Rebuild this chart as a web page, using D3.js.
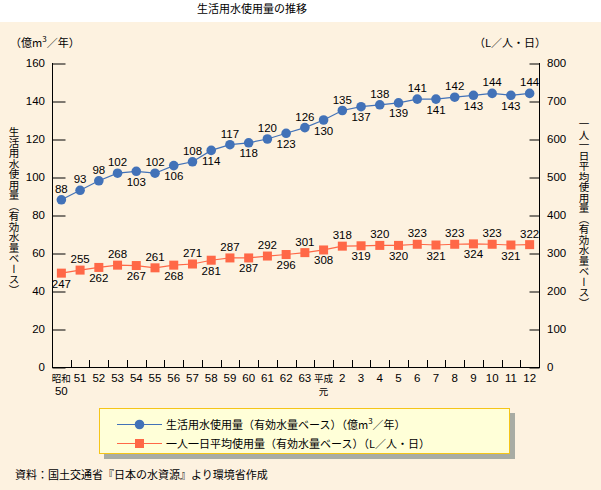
<!DOCTYPE html>
<html><head><meta charset="utf-8">
<script src="https://cdn.jsdelivr.net/npm/d3@7"></script>
<style>
body{margin:0;background:#fff;}
svg{display:block;}
text{font-family:"Liberation Sans","Noto Sans CJK JP",sans-serif;}
.jp{font-family:"Noto Sans CJK JP",sans-serif;}
</style></head>
<body>
<svg id="c" width="601" height="490"></svg>
<script>
const categories = ["昭和\n50","51","52","53","54","55","56","57","58","59","60","61","62","63","平成\n元","2","3","4","5","6","7","8","9","10","11","12"];
const totalUse = [88,93,98,102,103,102,106,108,114,117,118,120,123,126,130,135,137,138,139,141,141,142,143,144,143,144];
const perCapita = [247,255,262,268,267,261,268,271,281,287,287,292,296,301,308,318,319,320,320,323,321,323,324,323,321,322];
// label placement: 1 = above, -1 = below
const totalLabelPos = [1,1,1,1,-1,1,-1,1,-1,1,-1,1,-1,1,-1,1,-1,1,-1,1,-1,1,-1,1,-1,1];
const perLabelPos = [-1,1,-1,1,-1,1,-1,1,-1,1,-1,1,-1,1,-1,1,-1,1,-1,1,-1,1,-1,1,-1,1];
const leftTicks = [0,20,40,60,80,100,120,140,160];
const rightTicks = [0,100,200,300,400,500,600,700,800];

const svg = d3.select("#c");
const W = 601, H = 490;
const m = {l:52, r:539, t:63, b:367};
const blue = "#4272B8", orange = "#FF6847";

svg.append("rect").attr("x",0).attr("y",22).attr("width",W).attr("height",H-22).attr("fill","#FDF2E0");
svg.append("text").attr("class","jp").attr("x",252).attr("y",13).attr("text-anchor","middle")
  .attr("font-size","11px").attr("fill","#000").text("生活用水使用量の推移");

const x = d3.scaleBand().domain(categories).range([m.l, m.r]).padding(0);
const yL = d3.scaleLinear().domain([0,160]).range([m.b, m.t]);
const yR = d3.scaleLinear().domain([0,800]).range([m.b, m.t]);

// axes frame
const g = svg.append("g");
g.append("line").attr("x1",m.l+0.5).attr("x2",m.l+0.5).attr("y1",m.t).attr("y2",m.b).attr("stroke","#000");
g.append("line").attr("x1",m.r+0.5).attr("x2",m.r+0.5).attr("y1",m.t).attr("y2",m.b).attr("stroke","#000");
g.append("line").attr("x1",m.l).attr("x2",m.r+1).attr("y1",m.b+0.5).attr("y2",m.b+0.5).attr("stroke","#000");

// left axis
const la = svg.append("g").attr("transform",`translate(${m.l+0.5},0)`)
  .call(d3.axisRight(yL).tickValues(leftTicks).tickSize(13).tickFormat(""));
la.select(".domain").remove();
la.selectAll("line").attr("stroke","#000").attr("transform","translate(0,0.5)");
svg.append("g").selectAll("text").data(leftTicks).join("text")
  .attr("x",45).attr("y",d=>yL(d)+4).attr("text-anchor","end").attr("font-size","11.5px").text(d=>d);

// right axis
const ra = svg.append("g").attr("transform",`translate(${m.r+0.5},0)`)
  .call(d3.axisLeft(yR).tickValues(rightTicks).tickSize(10).tickFormat(""));
ra.select(".domain").remove();
ra.selectAll("line").attr("stroke","#000").attr("transform","translate(0,0.5)");
svg.append("g").selectAll("text").data(rightTicks).join("text")
  .attr("x",547).attr("y",d=>yR(d)+4).attr("text-anchor","start").attr("font-size","11.5px").text(d=>d);

// x ticks (band boundaries)
const bounds = categories.slice(1).map(c=>x(c));
svg.append("g").selectAll("line").data(bounds).join("line")
  .attr("x1",d=>Math.round(d)+0.5).attr("x2",d=>Math.round(d)+0.5)
  .attr("y1",m.b).attr("y2",m.b-7).attr("stroke","#000");
const xl = svg.append("g").selectAll("text").data(categories).join("text")
  .attr("x",d=>x(d)+x.bandwidth()/2).attr("y",382).attr("text-anchor","middle").attr("font-size","11.5px");
xl.each(function(d){
  const parts = d.split("\n");
  const t = d3.select(this);
  parts.forEach((p,i)=>{
    const isNum = /^\d+$/.test(p);
    t.append("tspan").attr("x",x(d)+x.bandwidth()/2).attr("dy",i?13:0)
     .attr("class",isNum?null:"jp")
     .attr("font-size",isNum?"11.5px":"9.5px").text(p);
  });
});

// axis titles
const lt = svg.append("text").attr("class","jp").attr("x",10).attr("y",47).attr("font-size","11px");
lt.append("tspan").text("（億m");
lt.append("tspan").attr("font-size","8px").attr("dy",-5).text("3");
lt.append("tspan").attr("dy",5).text("／年）");
svg.append("text").attr("class","jp").attr("x",474).attr("y",47).attr("font-size","11px").text("（L／人・日）");

svg.append("text").attr("class","jp").attr("x",14).attr("y",127).attr("font-size","10.5px")
  .style("writing-mode","vertical-rl").text("生活用水使用量（有効水量ベース）");
svg.append("text").attr("class","jp").attr("x",584).attr("y",119).attr("font-size","10.5px")
  .style("writing-mode","vertical-rl").text("一人一日平均使用量（有効水量ベース）");

// series
const cx = (i)=>x(categories[i])+x.bandwidth()/2;
const lineL = d3.line().x((d,i)=>cx(i)).y(d=>yL(d));
const lineR = d3.line().x((d,i)=>cx(i)).y(d=>yR(d));
svg.append("path").attr("d",lineL(totalUse)).attr("fill","none").attr("stroke",blue).attr("stroke-width",1.2);
svg.append("path").attr("d",lineR(perCapita)).attr("fill","none").attr("stroke",orange).attr("stroke-width",1.2);
svg.append("g").selectAll("circle").data(totalUse).join("circle")
  .attr("cx",(d,i)=>cx(i)).attr("cy",d=>yL(d)).attr("r",4.8).attr("fill",blue);
svg.append("g").selectAll("rect").data(perCapita).join("rect")
  .attr("x",(d,i)=>cx(i)-4.5).attr("y",d=>yR(d)-4.5).attr("width",9).attr("height",9).attr("fill",orange);

svg.append("g").selectAll("text").data(totalUse).join("text")
  .attr("x",(d,i)=>cx(i)).attr("y",(d,i)=>yL(d)+(totalLabelPos[i]>0?-7:14.5))
  .attr("text-anchor","middle").attr("font-size","11.5px").text(d=>d);
svg.append("g").selectAll("text").data(perCapita).join("text")
  .attr("x",(d,i)=>cx(i)).attr("y",(d,i)=>yR(d)+(perLabelPos[i]>0?-7:14.5))
  .attr("text-anchor","middle").attr("font-size","11.5px").text(d=>d);

// legend
const lg = svg.append("g");
lg.append("rect").attr("x",104).attr("y",413).attr("width",411).attr("height",46).attr("fill","#A8ACA4");
lg.append("rect").attr("x",99.5).attr("y",408.5).attr("width",410).attr("height",45).attr("fill","#FFFFD8").attr("stroke","#F5C518");
lg.append("line").attr("x1",117).attr("x2",162).attr("y1",424.5).attr("y2",424.5).attr("stroke",blue);
lg.append("circle").attr("cx",139.5).attr("cy",424.5).attr("r",4.8).attr("fill",blue);
lg.append("line").attr("x1",117).attr("x2",162).attr("y1",443.5).attr("y2",443.5).attr("stroke",orange);
lg.append("rect").attr("x",135).attr("y",439).attr("width",9).attr("height",9).attr("fill",orange);
const t1 = lg.append("text").attr("class","jp").attr("x",166).attr("y",429).attr("font-size","11px");
t1.append("tspan").text("生活用水使用量（有効水量ベース）（億m");
t1.append("tspan").attr("font-size","8px").attr("dy",-5).text("3");
t1.append("tspan").attr("dy",5).text("／年）");
lg.append("text").attr("class","jp").attr("x",166).attr("y",448).attr("font-size","11px").text("一人一日平均使用量（有効水量ベース）（L／人・日）");

svg.append("text").attr("class","jp").attr("x",15).attr("y",479).attr("font-size","11px")
  .text("資料：国土交通省『日本の水資源』より環境省作成");
</script>
</body></html>
